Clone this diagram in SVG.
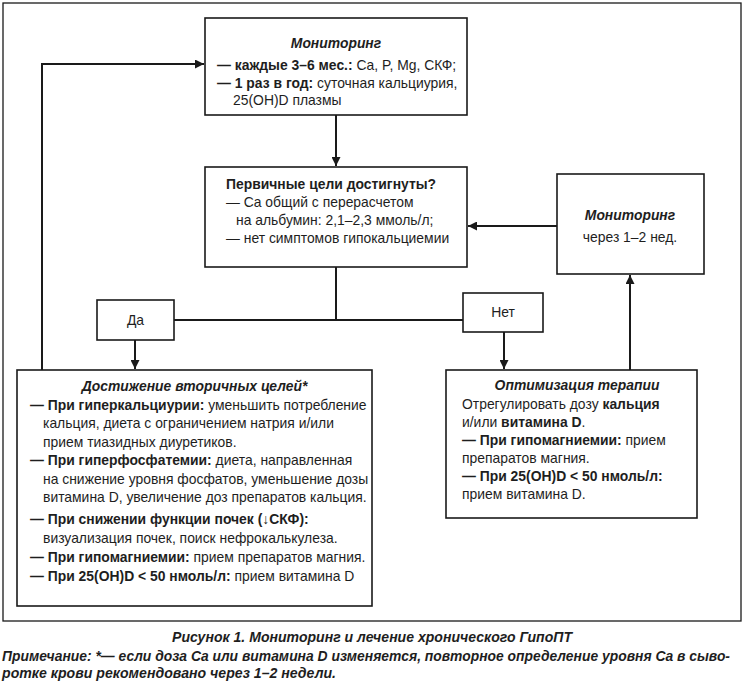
<svg xmlns="http://www.w3.org/2000/svg" width="745" height="683" viewBox="0 0 745 683">
<defs>
<style>
.box{fill:#fff;stroke:#1a1a1a;stroke-width:1.6}
.frame{fill:none;stroke:#1a1a1a;stroke-width:1.3}
.con{fill:none;stroke:#1a1a1a;stroke-width:2}
text{font-family:"Liberation Sans",Arial,sans-serif;font-size:13.9px;fill:#1e1e1e}
.b{font-weight:bold}
.bi{font-weight:bold;font-style:italic}
.c{text-anchor:middle}
.cap{font-family:"Liberation Sans",Arial,sans-serif;font-weight:bold;font-style:italic;font-size:14px}
</style>
<marker id="ah" viewBox="0 0 10 10" refX="10" refY="5" markerWidth="9" markerHeight="9" markerUnits="userSpaceOnUse" orient="auto">
<path d="M0,0 L10,5 L0,10 Z" fill="#1a1a1a"/>
</marker>
</defs>
<rect x="0" y="0" width="745" height="683" fill="#fff"/>
<rect class="frame" x="3" y="3" width="738" height="618"/>

<g id="connectors">
<line class="con" x1="336" y1="115" x2="336" y2="166" marker-end="url(#ah)"/>
<line class="con" x1="336" y1="267" x2="336" y2="321"/>
<line class="con" x1="174" y1="320" x2="463" y2="320"/>
<line class="con" x1="135" y1="340" x2="135" y2="369" marker-end="url(#ah)"/>
<line class="con" x1="504" y1="332" x2="504" y2="369" marker-end="url(#ah)"/>
<polyline class="con" points="42,370 42,64 204,64" marker-end="url(#ah)"/>
<line class="con" x1="630" y1="370" x2="630" y2="275" marker-end="url(#ah)"/>
<line class="con" x1="557" y1="226" x2="468" y2="226" marker-end="url(#ah)"/>
</g>

<g id="monitoring">
<rect class="box" x="205" y="18" width="262" height="97"/>
<text class="bi c" x="336" y="48">Мониторинг</text>
<text x="217" y="70"><tspan class="b">— каждые 3–6 мес.:</tspan> Ca, P, Mg, СКФ;</text>
<text x="217" y="88"><tspan class="b">— 1 раз в год:</tspan> суточная кальциурия,</text>
<text x="233" y="105">25(OH)D плазмы</text>
</g>

<g id="primary-goals">
<rect class="box" x="205" y="167" width="262" height="100"/>
<text class="b" x="226" y="189">Первичные цели достигнуты?</text>
<text x="226" y="207">— Ca общий с перерасчетом</text>
<text x="236" y="225">на альбумин: 2,1–2,3 ммоль/л;</text>
<text x="226" y="243">— нет симптомов гипокальциемии</text>
</g>

<g id="monitoring-weeks">
<rect class="box" x="557" y="174" width="147" height="100"/>
<text class="bi c" x="630" y="220">Мониторинг</text>
<text class="c" x="630" y="242">через 1–2 нед.</text>
</g>

<g id="yes">
<rect class="box" x="97" y="300" width="77" height="40"/>
<text class="c" x="135.5" y="325">Да</text>
</g>

<g id="no">
<rect class="box" x="463" y="293" width="80" height="39"/>
<text class="c" x="503" y="317">Нет</text>
</g>

<g id="secondary-goals">
<rect class="box" x="17" y="370" width="355" height="236"/>
<text class="bi c" x="194.5" y="391">Достижение вторичных целей*</text>
<text x="30" y="409.5"><tspan class="b">— При гиперкальциурии:</tspan> уменьшить потребление</text>
<text x="43" y="428">кальция, диета с ограничением натрия и/или</text>
<text x="43" y="446.5">прием тиазидных диуретиков.</text>
<text x="30" y="465"><tspan class="b">— При гиперфосфатемии:</tspan> диета, направленная</text>
<text x="43" y="483.5">на снижение уровня фосфатов, уменьшение дозы</text>
<text x="43" y="502">витамина D, увеличение доз препаратов кальция.</text>
<text x="30" y="524" class="b">— При снижении функции почек (↓СКФ):</text>
<text x="43" y="543">визуализация почек, поиск нефрокалькулеза.</text>
<text x="30" y="562"><tspan class="b">— При гипомагниемии:</tspan> прием препаратов магния.</text>
<text x="30" y="581"><tspan class="b">— При 25(OH)D &lt; 50 нмоль/л:</tspan> прием витамина D</text>
</g>

<g id="therapy">
<rect class="box" x="446" y="370" width="251" height="148"/>
<text class="bi c" x="577" y="390">Оптимизация терапии</text>
<text x="462" y="409">Отрегулировать дозу <tspan class="b">кальция</tspan></text>
<text x="462" y="427">и/или <tspan class="b">витамина D</tspan>.</text>
<text x="462" y="445"><tspan class="b">— При гипомагниемии:</tspan> прием</text>
<text x="462" y="463">препаратов магния.</text>
<text x="462" y="481" class="b">— При 25(OH)D &lt; 50 нмоль/л:</text>
<text x="462" y="499">прием витамина D.</text>
</g>

<g id="caption">
<text class="cap c" x="372" y="642" textLength="400" lengthAdjust="spacingAndGlyphs">Рисунок 1. Мониторинг и лечение хронического ГипоПТ</text>
<text class="cap" x="2" y="661" textLength="728" lengthAdjust="spacingAndGlyphs">Примечание: *— если доза Ca или витамина D изменяется, повторное определение уровня Ca в сыво-</text>
<text class="cap" x="2" y="678" textLength="334" lengthAdjust="spacingAndGlyphs">ротке крови рекомендовано через 1–2 недели.</text>
</g>
</svg>
